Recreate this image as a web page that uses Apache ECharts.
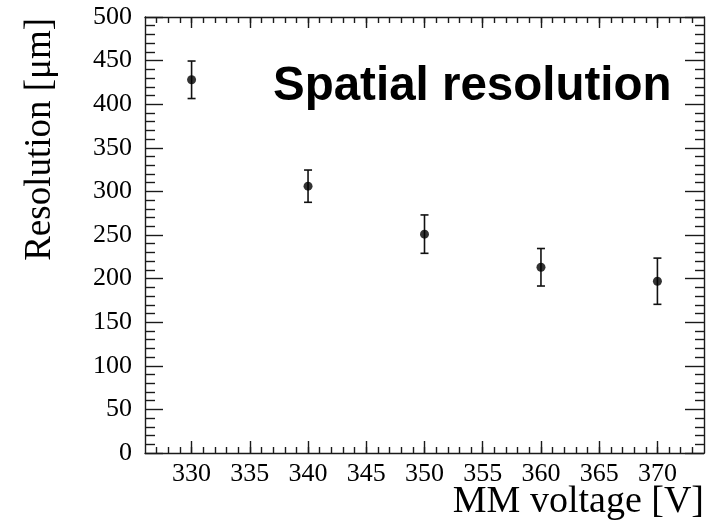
<!DOCTYPE html>
<html>
<head>
<meta charset="utf-8">
<script src="https://cdn.jsdelivr.net/npm/echarts@6/dist/echarts.min.js"></script>
<style>html,body{margin:0;padding:0;background:#fff;}#c{width:724px;height:528px;}</style>
</head>
<body>
<div id="c"></div>
<script>
// ---- data ----
const voltages = [330, 340, 350, 360, 370];
const resolution = [428, 306, 251, 213, 197];
const resolutionErr = [21.5, 18.5, 22, 21.5, 26.5];
const xTickLabels = [330, 335, 340, 345, 350, 355, 360, 365, 370];
const xMin = 326, xMax = 374;
const yMin = 0, yMax = 500, yStep = 50;
const titleText = 'Spatial resolution';
const xTitle = 'MM voltage [V]';
const yTitle = 'Resolution [\u03bcm]';

const xMinorTicks = [];
for (let v = xMin + 1; v < xMax; v++) xMinorTicks.push(v);

const axisColor = '#1a1a1a';
const serif = '"Liberation Serif", "Times New Roman", serif';

function xAx(pos, major, len, showLabel) {
  return {
    type: 'value', position: pos, min: xMin, max: xMax,
    axisLine: { show: major, lineStyle: { color: axisColor, width: 1.4 } },
    axisTick: { show: true, inside: true, length: len, customValues: major ? xTickLabels : xMinorTicks,
                lineStyle: { color: axisColor, width: 1.4 } },
    axisLabel: { show: showLabel, customValues: xTickLabels, margin: 8, color: '#000',
                 fontFamily: serif, fontSize: 26 },
    splitLine: { show: false }
  };
}
function yAx(pos, majorLen, minorLen, showLabel) {
  return {
    type: 'value', position: pos, min: yMin, max: yMax, interval: yStep,
    axisLine: { show: true, lineStyle: { color: axisColor, width: 1.4 } },
    axisTick: { show: true, inside: true, length: majorLen, lineStyle: { color: axisColor, width: 1.4 } },
    minorTick: { show: true, splitNumber: 5, length: minorLen, lineStyle: { color: axisColor, width: 1.4 } },
    axisLabel: { show: showLabel, margin: 13, color: '#000', fontFamily: serif, fontSize: 26 },
    splitLine: { show: false }, minorSplitLine: { show: false }
  };
}

const chart = echarts.init(document.getElementById('c'));
chart.setOption({
  animation: false,
  backgroundColor: '#fff',
  grid: { left: 145, top: 17, width: 559, height: 436, containLabel: false },
  xAxis: [
    xAx('bottom', true, 12, true),
    xAx('bottom', false, 6, false),
    xAx('top', true, 11, false),
    xAx('top', false, 6, false)
  ],
  yAxis: [
    yAx('left', 18, 10, true),
    yAx('right', 19, 9, false)
  ],
  series: [
    {
      type: 'custom', xAxisIndex: 0, yAxisIndex: 0,
      data: voltages.map((v, i) => [v, resolution[i] - resolutionErr[i], resolution[i] + resolutionErr[i]]),
      renderItem: function (params, api) {
        const x = api.value(0);
        const lo = api.coord([x, api.value(1)]);
        const hi = api.coord([x, api.value(2)]);
        const hw = 4;
        const style = { stroke: '#111', lineWidth: 1.6 };
        return { type: 'group', children: [
          { type: 'line', shape: { x1: lo[0], y1: lo[1], x2: hi[0], y2: hi[1] }, style: style },
          { type: 'line', shape: { x1: lo[0] - hw, y1: lo[1], x2: lo[0] + hw, y2: lo[1] }, style: style },
          { type: 'line', shape: { x1: hi[0] - hw, y1: hi[1], x2: hi[0] + hw, y2: hi[1] }, style: style }
        ]};
      },
      z: 2
    },
    {
      type: 'scatter', xAxisIndex: 0, yAxisIndex: 0,
      data: voltages.map((v, i) => [v, resolution[i]]),
      symbol: 'circle', symbolSize: 9,
      itemStyle: { color: '#000' }, z: 3
    }
  ],
  graphic: [
    { type: 'text', x: 273, y: 87,
      style: { text: titleText, font: 'bold 47.5px "Liberation Sans", Arial, sans-serif',
               fill: '#000', textAlign: 'left', textVerticalAlign: 'middle' } },
    { type: 'text', x: 704, y: 502,
      style: { text: xTitle, font: '38px ' + serif, fill: '#000',
               textAlign: 'right', textVerticalAlign: 'middle' } },
    { type: 'text', x: 40, y: 18, rotation: Math.PI / 2,
      style: { text: yTitle, font: '37px ' + serif, fill: '#000',
               textAlign: 'right', textVerticalAlign: 'middle' } }
  ]
});
</script>
</body>
</html>
